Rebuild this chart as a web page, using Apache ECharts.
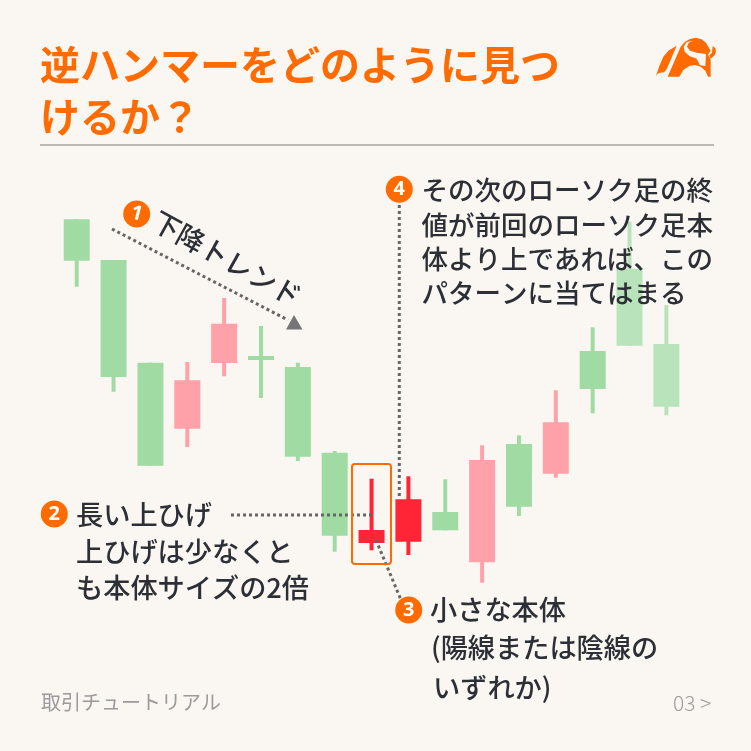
<!DOCTYPE html>
<html><head><meta charset="utf-8">
<style>html,body{margin:0;padding:0;background:#FAF7F2}#c{width:751px;height:751px}</style>
<script src="https://cdn.jsdelivr.net/npm/echarts@6/dist/echarts.min.js"></script>
</head><body><div id="c"></div>
<script>
// Chart values (price units: 0 at page bottom, 751 at page top)
const categories = ['1','2','3','4','5','6','7','8','9','10','11','12','13','14','15','16','17'];
const openValues  = [531.7,491,388.3,322.3,388,395,384,298.3,208,209.3,239,188.7,307,277.3,362,482,407];
const closeValues = [490.3,374,285.3,370.7,427.3,391,294.3,215.3,221,251.7,220.7,291,244.3,328.7,400,405.3,344.3];
const lowValues   = [464.3,359.3,285.3,304,374.7,353,290,199.3,200.7,196,220.7,168.3,235,273.3,337.7,405.3,335.7];
const highValues  = [531.7,491,388.3,389,453,425,388.3,300,272.3,274.7,271.7,305.7,315.7,360.7,423.7,529.3,446];
const tones = ['g','g','g','p','p','g','g','g','r','r','g','p','g','p','g','l','l'];

const toneColors = {g:'#A0DBA4', p:'#FFA1A8', r:'#FF2536', l:'#B8E3BB'};
const ORANGE = '#FF6B00', INK = '#2C2F35', DOT = '#666666', PAPER = '#FAF7F2';
const CJK = '"Noto Sans CJK JP"';

function txt(text, x, y, size, fill, weight, extra) {
  return Object.assign({type:'text', z:100, style:{text, x, y, fill,
    font:(weight||'500')+' '+size+'px '+CJK, align:'left', verticalAlign:'middle'}}, extra||{});
}
function dots(x1,y1,x2,y2){
  return {type:'line', z:90, shape:{x1,y1,x2,y2},
    style:{stroke:DOT, lineWidth:3, lineDash:[3,3]}};
}
function badge(cx,cy,label,rot){
  return [
    {type:'circle', z:100, shape:{cx,cy,r:13.5}, style:{fill:ORANGE}},
    {type:'text', z:101, x:cx, y:cy, rotation:rot||0, style:{text:label, x:0, y:0, fill:'#fff',
      font:'700 20px "Noto Sans"', align:'center', verticalAlign:'middle'}}
  ];
}
// logo outline, in 3x crop coordinates of its 640,30 corner
function logo(points, fill){
  return {type:'polygon', z:100, x:640, y:30, scaleX:1/3, scaleY:1/3, shape:{points}, style:{fill}};
}

const annotation = [
  {type:'line', z:50, shape:{x1:40,y1:145,x2:714,y2:145}, style:{stroke:'#BCB8B1', lineWidth:2}},
  logo([[47,140],[58,108],[70,80],[85,62],[110,47],[80,118],[72,127],[60,128],[52,132]], ORANGE),
  logo([[83,140],[122,50],[135,35],[150,27],[168,23],[185,28],[198,38],[212,62],[204,74],[212,88],[212,140],[204,140],[196,122],[182,110],[165,105],[148,108],[130,120],[118,140]], ORANGE),
  logo([[218,48],[226,55],[228,65],[224,76],[212,86],[208,76],[216,68]], ORANGE),
  logo([[160,32],[146,38],[141,50],[150,62],[170,68],[198,72],[196,108],[180,106],[170,86],[148,78],[134,65],[131,50],[140,36]], PAPER),
  // callout 1
  dots(112,229,288,320),
  {type:'polygon', z:100, shape:{points:[[294,315],[286,329.5],[302.5,329.5]]}, style:{fill:'#767676'}},
  ...badge(136.7,214,'1',-0.25),
  {type:'text', z:100, x:227, y:258.5, rotation:-29*Math.PI/180, style:{text:'下降トレンド', x:0, y:0, fill:INK,
    font:'500 27.5px '+CJK, align:'center', verticalAlign:'middle'}},
  // callout 2
  ...badge(54.3,514,'2'),
  txt('長い上ひげ',76,515,27.2,INK),
  txt('上ひげは少なくと',76,551.5,27.2,INK),
  txt('も本体サイズの2倍',76,588,27.2,INK),
  dots(231,515,372,515),
  // highlight box
  {type:'rect', z:95, shape:{x:352,y:464,width:39,height:100,r:3}, style:{fill:'none', stroke:ORANGE, lineWidth:2}},
  // callout 3
  dots(376,540,401,600),
  ...badge(408.7,610,'3'),
  txt('小さな本体',430,610,27.2,INK),
  txt('(陽線または陰線の',431,648,27.2,INK),
  txt('いずれか)',433,688,27.2,INK),
  // callout 4
  dots(399.3,205,399.3,499),
  ...badge(399.3,189.3,'4'),
  txt('その次のローソク足の終',421.5,190,26.5,INK),
  txt('値が前回のローソク足本',421.5,225,26.5,INK),
  txt('体より上であれば、この',421.5,259,26.5,INK),
  txt('パターンに当てはまる',421.5,293,26.5,INK),
  // footer
  txt('取引チュートリアル',41,702,20,'#9B9B9B','400'),
  txt('03 >',673,703,21,'#9B9B9B','300')
];

const chart = echarts.init(document.getElementById('c'), null, {renderer:'canvas'});
chart.setOption({
  animation:false,
  backgroundColor:PAPER,
  title:{text:'逆ハンマーをどのように見つ\nけるか\uFF1F', left:35, top:34,
    textStyle:{color:ORANGE, fontFamily:CJK, fontWeight:700, fontSize:40, lineHeight:52}},
  grid:{left:58.3, width:626.5, top:0, bottom:0},
  xAxis:{type:'category', data:categories, show:false},
  yAxis:{type:'value', min:0, max:751, show:false},
  series:[{
    type:'custom',
    name:'candles',
    encode:{x:0, y:[1,2,3,4]},
    data:categories.map((c,i)=>[i,openValues[i],closeValues[i],lowValues[i],highValues[i]]),
    renderItem(params, api){
      const i = api.value(0);
      const xc = api.coord([i,0])[0];
      const oY = api.coord([i,api.value(1)])[1];
      const cY = api.coord([i,api.value(2)])[1];
      const lY = api.coord([i,api.value(3)])[1];
      const hY = api.coord([i,api.value(4)])[1];
      const fill = toneColors[tones[i]];
      const top = Math.min(oY,cY), h = Math.abs(oY-cY);
      return {type:'group', children:[
        {type:'rect', shape:{x:xc-2, y:hY, width:4, height:lY-hY}, style:{fill}},
        {type:'rect', shape:{x:xc-13, y:top, width:26, height:h}, style:{fill}}
      ]};
    }
  }],
  graphic:{elements:annotation}
});
</script></body></html>
